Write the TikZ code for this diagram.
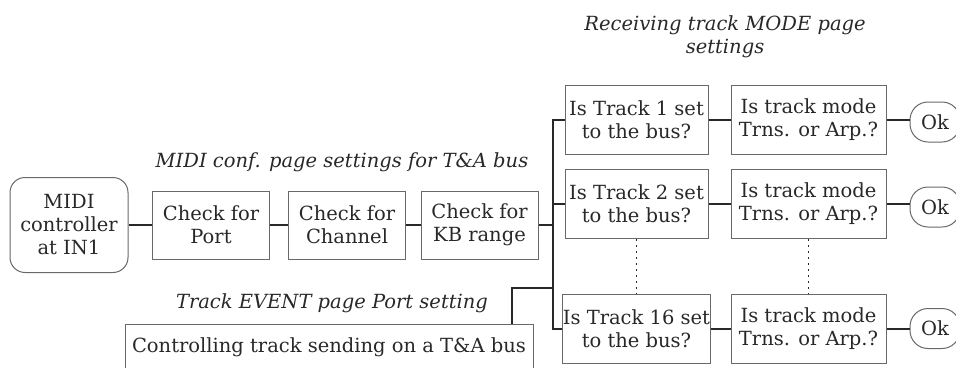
\documentclass[tikz,border=0pt]{standalone}
\usepackage{fontspec}
\setmainfont{DejaVu Serif}
\usepackage{tikz}
\usetikzlibrary{positioning}
\definecolor{boxgray}{RGB}{105,105,105}
\definecolor{inkgray}{RGB}{40,40,40}
\newcommand{\chartfont}{\fontsize{19.5}{23}\selectfont}
\tikzset{
    box/.style={
        draw=boxgray,
        line width=1pt,
        align=center,
        inner sep=0pt,
        text=inkgray
    },
    check/.style={box, minimum width=117pt, minimum height=68pt},
    track/.style={box, minimum width=143pt, minimum height=69pt},
    mode/.style={box, minimum width=155pt, minimum height=69pt},
    ok/.style={box, rounded corners=18pt, minimum width=50pt, minimum height=40pt},
    wire/.style={draw=inkgray, line width=2pt},
    dots/.style={draw=inkgray, line width=1.6pt, dash pattern=on 1.6pt off 4.4pt},
    caption/.style={font=\chartfont\itshape, text=inkgray, align=center}
}

\begin{document}
\begin{tikzpicture}[x=1pt,y=-1pt,font=\chartfont]
	\useasboundingbox (0,0) rectangle (956,367);
	\node[box,rounded corners=15pt,minimum width=118pt,minimum height=95pt] (midi) at (69,225) {MIDI\\controller\\at IN1};
	\node[check] at (211,225) (port) {Check for\\Port};
	\node[check] at (347,225) (chan) {Check for\\Channel};
	\node[check] at (479.5,225) (kb) {Check for\\KB range};
	\node[caption] at (342,162) (conf) {MIDI conf. page settings for T\&A bus};
	\node[box,minimum width=408pt,minimum height=46pt] at (329,347) (event) {Controlling track sending on a T\&A bus};
	\node[caption] at (332,303) (evcap) {Track EVENT page Port setting};
	\node[caption] at (725,37) (modecap) {Receiving track MODE page\\settings};
	\node[track] at (636.5,119.5) (t1) {Is Track 1 set\\to the bus?};
	\node[track] at (636.5,204) (t2) {Is Track 2 set\\to the bus?};
	\node[track] at (636.5,329) (t16) {Is Track 16 set\\to the bus?};
	\node[mode] at (808.5,119.5) (m1) {Is track mode\\Trns. or Arp.?};
	\node[mode] at (808.5,204) (m2) {Is track mode\\Trns. or Arp.?};
	\node[mode] at (808.5,329) (m16) {Is track mode\\Trns. or Arp.?};
	\node[ok] at (935,122) (ok1) {Ok};
	\node[ok] at (935,207) (ok2) {Ok};
	\node[ok] at (935,328.5) (ok16) {Ok};
	\coordinate (bus) at (553,0);
	\coordinate (evtap) at (512,288);
	\draw[wire]
	(midi) -- (port)
	(port) -- (chan)
	(chan) -- (kb)
	(kb) -- (kb -| bus)
	(t1.west) -- (t1.west -| bus) -- (t16.west -| bus) -- (t16.west)
	(t2.west) -- (t2.west -| bus)
	(event.north -| evtap) -- (evtap) -- (evtap -| bus)
	(t1) -- (m1)
	(t2) -- (m2)
	(t16) -- (m16)
	(m1.east) -- (ok1.west |- m1.east)
	(m2.east) -- (ok2.west |- m2.east)
	(m16.east) -- (ok16.west |- m16.east);
	\draw[dots] (t2) -- (t16) (m2) -- (m16);
\end{tikzpicture}
\end{document}
